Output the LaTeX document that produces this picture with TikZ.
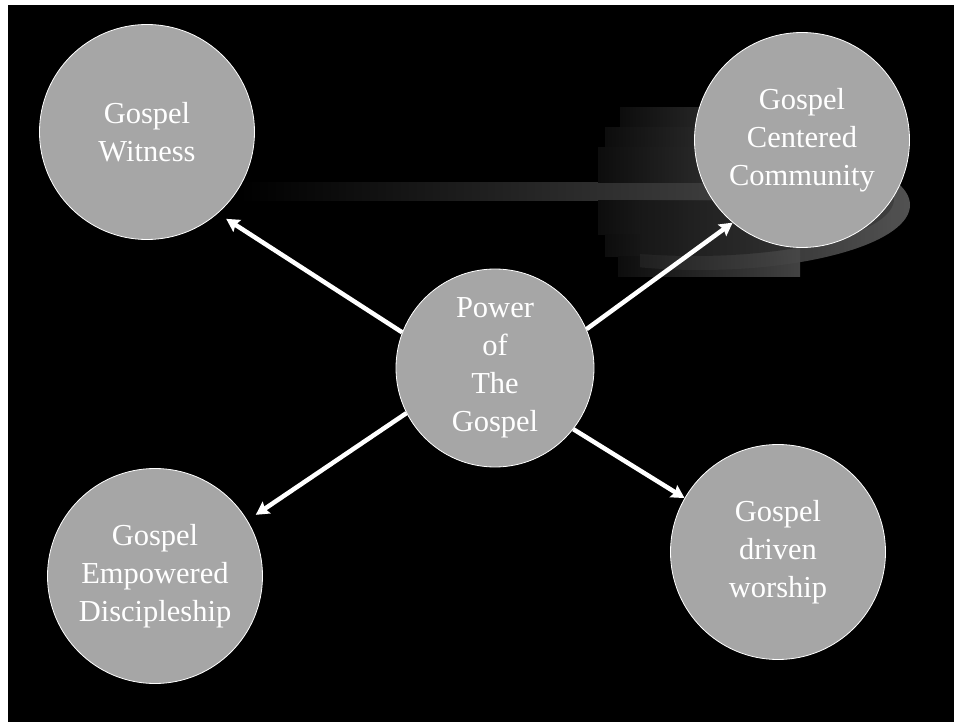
\documentclass[tikz,border=0pt]{standalone}
\usepackage{fontspec}
\setmainfont{Liberation Serif}
\usepackage{xcolor}
\usetikzlibrary{
	arrows.meta,
	positioning
}
\definecolor{bubblegray}{RGB}{166,166,166}

\begin{document}
\begin{tikzpicture}[x=1pt,y=-1pt,>={Stealth[length=13pt,width=14pt,inset=2pt]},
		bubble/.style={circle,draw=white,line width=0.8pt,fill=bubblegray,minimum size=215pt,inner sep=0pt,text=white,align=center,font=\fontsize{30.5}{38}\selectfont},
		spoke/.style={->,white,line width=4.5pt}]
		
		% frame
		\fill[white] (0,0) rectangle (954,722);
		\fill[black] (8,5) rectangle (954,722);
		
		% blurred streak behind the community bubble
		\shade[left color=black,right color=black!76] (240,183) rectangle (720,201);
		\foreach \ya/\yb/\xa in {
			108/128/620,
			128/148/605,
			148/183/598,
			201/235/598,
			235/257/605,
			257/277/618
		}
		\shade[left color=black!95,right color=black!74] (\xa,\ya) rectangle (800,\yb);
		\begin{scope}
			\clip (640,201) -- (860,201) -- (860,140) -- (954,140) -- (954,300) -- (640,300) -- cycle;
			\shade[left color=black,middle color=black!90,right color=black!62,opacity=0.85] (700,205) ellipse [x radius=210pt,y radius=65pt];
			\shade[left color=black,middle color=black!86,right color=black!76,opacity=0.85] (694,199) ellipse [x radius=200pt,y radius=57pt];
		\end{scope}
		
		% bubbles
		\node[bubble] (witness) at (147,132) {Gospel\\Witness};
		\node[bubble] (community) at (802,140) {Gospel\\Centered\\Community};
		\node[bubble,minimum size=198pt] (power) at (495,368) {Power\\of\\The\\Gospel};
		\node[bubble] (disciple) at (155,576) {Gospel\\Empowered\\Discipleship};
		\node[bubble] (worship) at (778,552) {Gospel\\driven\\worship};
		
		% spokes
		\draw[spoke,shorten >=10pt] (power.159) -- (witness.311);
		\draw[spoke] (power.23) -- (community.230);
		\draw[spoke,shorten >=10pt] (power.207) -- (disciple.31);
		\draw[spoke] (power.322) -- (worship.150);
		
	\end{tikzpicture}
\end{document}
